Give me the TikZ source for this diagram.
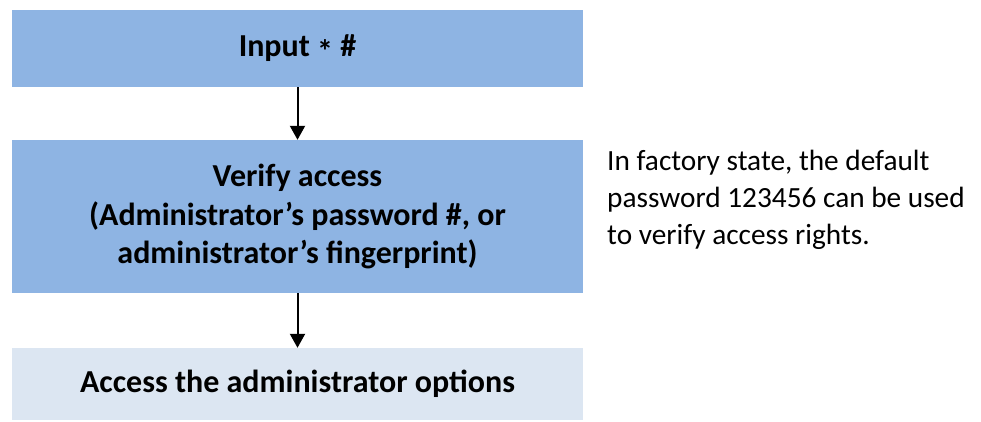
\documentclass[tikz,border=0pt]{standalone}
\usepackage{fontspec}
\setmainfont{Carlito}
\usetikzlibrary{arrows.meta,positioning}
\definecolor{stepblue}{HTML}{8EB4E3}
\definecolor{steppale}{HTML}{DCE6F2}

\begin{document}
\begin{tikzpicture}[x=1pt,y=-1pt]
        \tikzstyle{every node}+=[inner sep=0pt]
        \tikzstyle{stepbox}=[minimum width=571pt, align=center, font=\fontsize{32}{38.5}\selectfont\bfseries]
        \tikzstyle{flow}=[line width=2pt, -{Triangle[width=15pt,length=14pt]}]
        \useasboundingbox (0,0) rectangle (981,421);
        \node [stepbox, fill=stepblue, minimum height=77pt] (input) at (297.5,48.5) {Input \raisebox{-0.35ex}{*} \#};
        \node [stepbox, fill=stepblue, minimum height=153pt] (verify) at (297.5,216.5) {Verify access\\(Administrator’s password \#, or\\administrator’s fingerprint)};
        \node [stepbox, fill=steppale, minimum height=72pt] (options) at (297.5,384) {Access the administrator options};
        \draw [flow] (input) -- (verify);
        \draw [flow] (verify) -- (options);
        \node [anchor=north west, align=left, font=\fontsize{29.3}{37}\selectfont] (note) at (607,150) {In factory state, the default\\password 123456 can be used\\to verify access rights.};
        \end{tikzpicture}
\end{document}
